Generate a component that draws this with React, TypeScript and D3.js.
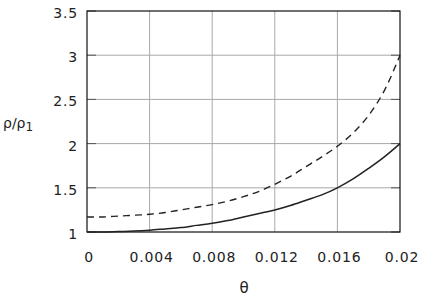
import React from 'react';
import * as d3 from 'd3';

// theta values (x) and the two ratio curves
const theta = [
	0, 0.001, 0.002, 0.003, 0.004, 0.005, 0.006, 0.007, 0.008, 0.009, 0.01,
	0.011, 0.012, 0.013, 0.014, 0.015, 0.016, 0.017, 0.018, 0.019, 0.02,
];
const solidRatio = [
	1.0, 1.0, 1.005, 1.01, 1.02, 1.035, 1.05, 1.075, 1.1, 1.13, 1.17, 1.21, 1.25,
	1.3, 1.36, 1.42, 1.5, 1.6, 1.72, 1.85, 2.0,
];
const dashedRatio = [
	1.17, 1.17, 1.18, 1.19, 1.2, 1.22, 1.25, 1.28, 1.31, 1.35, 1.4, 1.46, 1.54,
	1.63, 1.74, 1.85, 1.97, 2.12, 2.32, 2.6, 3.0,
];
const xTicks = [0, 0.004, 0.008, 0.012, 0.016, 0.02];
const xTickLabels = ['0', '0.004', '0.008', '0.012', '0.016', '0.02'];
const yTicks = [1, 1.5, 2, 2.5, 3, 3.5];
const yTickLabels = ['1', '1.5', '2', '2.5', '3', '3.5'];

const App = () => {
	const svgWidth = 424;
	const svgHeight = 298;
	const margin = { top: 11, right: 24, bottom: 66, left: 87 },
		width = svgWidth - margin.left - margin.right,
		height = svgHeight - margin.top - margin.bottom;

	const xScale = d3.scaleLinear().domain([0, 0.02]).range([0, width]);
	const yScale = d3.scaleLinear().domain([1, 3.5]).range([height, 0]);

	const line = (vals: number[]) =>
		d3
			.line<number>()
			.x((d, i) => xScale(theta[i]))
			.y((d) => yScale(d))
			.curve(d3.curveCatmullRom)(vals) || '';

	const font = "'DejaVu Sans', Verdana, sans-serif";

	return (
		<svg
			width={svgWidth}
			height={svgHeight}
			style={{ position: 'absolute', left: 0, top: 0, background: '#fff' }}
			fontFamily={font}
		>
			<g transform={`translate(${margin.left},${margin.top})`}>
				{/* grid lines */}
				{xTicks.slice(1, -1).map((t) => (
					<line
						key={'gx' + t}
						x1={xScale(t)}
						x2={xScale(t)}
						y1={0}
						y2={height}
						stroke='#a8a8a8'
						strokeWidth={1}
					/>
				))}
				{yTicks.slice(1, -1).map((t) => (
					<line
						key={'gy' + t}
						x1={0}
						x2={width}
						y1={yScale(t)}
						y2={yScale(t)}
						stroke='#a8a8a8'
						strokeWidth={1}
					/>
				))}
				{/* inward ticks on the y sides */}
				{yTicks.map((t) => (
					<g key={'ty' + t}>
						<line x1={0} x2={9} y1={yScale(t)} y2={yScale(t)} stroke='#555' />
						<line
							x1={width - 9}
							x2={width}
							y1={yScale(t)}
							y2={yScale(t)}
							stroke='#555'
						/>
					</g>
				))}
				{/* frame */}
				<rect
					x={0}
					y={0}
					width={width}
					height={height}
					fill='none'
					stroke='#111'
					strokeWidth={1.2}
				/>
				{/* curves */}
				<path d={line(solidRatio)} fill='none' stroke='#222' strokeWidth={1.5} />
				<path
					d={line(dashedRatio)}
					fill='none'
					stroke='#222'
					strokeWidth={1.4}
					strokeDasharray='7,5'
				/>
				{/* tick labels */}
				{xTicks.map((t, i) => (
					<text
						key={'lx' + t}
						x={xScale(t) + 2}
						y={height + 30}
						textAnchor='middle'
						fontSize={14}
						letterSpacing={0.8}
						fill='#222'
					>
						{xTickLabels[i]}
					</text>
				))}
				{yTicks.map((t, i) => (
					<text
						key={'ly' + t}
						x={-9}
						y={yScale(t) + 7}
						textAnchor='end'
						fontSize={14}
						letterSpacing={0.8}
						fill='#222'
					>
						{yTickLabels[i]}
					</text>
				))}
			</g>
			{/* axis titles */}
			<text x={244} y={293} textAnchor='middle' fontSize={15} fill='#222'>
				θ
			</text>
			<text x={3} y={128} fontSize={14} fill='#222'>
				ρ/ρ
				<tspan fontSize={12} dy={3}>
					1
				</tspan>
			</text>
		</svg>
	);
};

export default App;
